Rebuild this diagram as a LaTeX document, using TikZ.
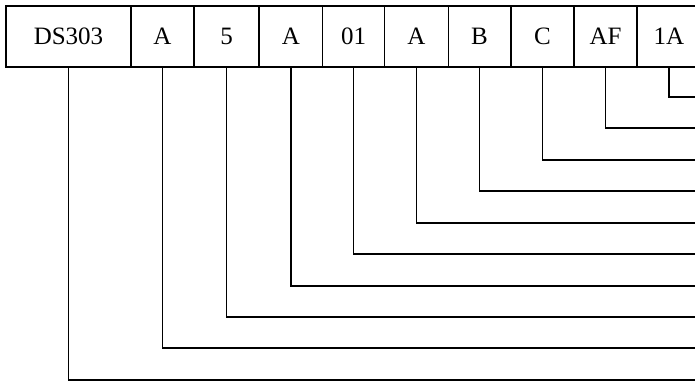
\documentclass[tikz,border=0pt]{standalone}
\usepackage{fontspec}
\setmainfont{Liberation Serif}
\begin{document}
\begin{tikzpicture}[x=1pt,y=-1pt,
  box/.style={draw,line width=1.7pt,inner sep=0pt,minimum height=61pt,font=\fontsize{25}{27}\selectfont},
  conn/.style={line width=1.7pt}]
\useasboundingbox (0,0) rectangle (695,382);
\node[box,minimum width=125pt] (b1) at (68.5,36.5) {DS303};
\node[box,minimum width=63pt] (b2) at (162.5,36.5) {A};
\node[box,minimum width=65pt] (b3) at (226.5,36.5) {5};
\node[box,minimum width=63pt] (b4) at (291,36.5) {A};
\node[box,minimum width=62pt] (b5) at (353.5,36.5) {01};
\node[box,minimum width=64pt] (b6) at (416.5,36.5) {A};
\node[box,minimum width=62pt] (b7) at (479.5,36.5) {B};
\node[box,minimum width=63pt] (b8) at (542.5,36.5) {C};
\node[box,minimum width=62pt] (b9) at (605.5,36.5) {AF};
\node[box,minimum width=64pt] (b10) at (669,36.5) {1A};
\coordinate (e10) at (710,97);
\coordinate (e9) at (710,128);
\coordinate (e8) at (710,160);
\coordinate (e7) at (710,191);
\coordinate (e6) at (710,223);
\coordinate (e5) at (710,254);
\coordinate (e4) at (710,286);
\coordinate (e3) at (710,317);
\coordinate (e2) at (710,348);
\coordinate (e1) at (710,380);
\foreach \i in {1,...,10} {\draw[conn] (b\i.south) |- (e\i);}
\end{tikzpicture}
\end{document}
